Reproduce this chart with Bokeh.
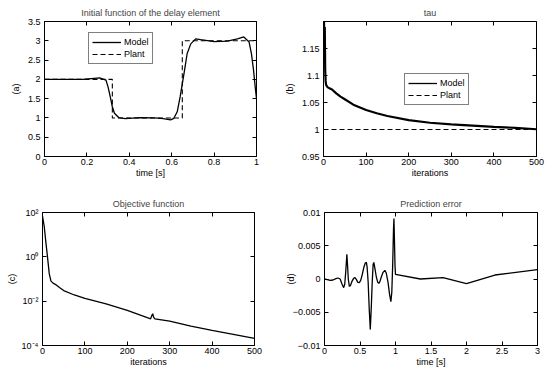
from bokeh.plotting import figure
from bokeh.layouts import column, row
from bokeh.models import (Range1d, FixedTicker, CustomJSTickFormatter, LinearAxis,
                          LogAxis, Legend, LegendItem)
from bokeh.embed import file_html
from bokeh.resources import INLINE

FONT = "Liberation Sans"

# ---------------- (a) Initial function of the delay element ----------------
a_time = [0.0, 0.18, 0.26, 0.29, 0.30, 0.31, 0.32, 0.33, 0.35, 0.38, 0.45, 0.52,
          0.56, 0.595, 0.61, 0.626, 0.64, 0.658, 0.673, 0.69, 0.713, 0.737, 0.80,
          0.863, 0.91, 0.94, 0.965, 0.976, 0.986, 0.994, 1.0]
a_model = [2.0, 2.0, 2.04, 1.98, 1.8, 1.55, 1.29, 1.12, 1.01, 0.98, 1.01, 1.0,
           0.98, 0.95, 0.99, 1.16, 1.55, 2.15, 2.67, 2.92, 3.05, 3.03, 2.98,
           2.99, 3.05, 3.1, 2.97, 2.67, 2.24, 1.8, 1.5]
a_plant_time = [0.0, 0.32, 0.32, 0.65, 0.65, 1.0, 1.0]
a_plant = [2.0, 2.0, 1.0, 1.0, 3.0, 3.0, 2.0]
a_xticks = [0, 0.2, 0.4, 0.6, 0.8, 1]
a_xlabels = ["0", "0.2", "0.4", "0.6", "0.8", "1"]
a_yticks = [0, 0.5, 1, 1.5, 2, 2.5, 3, 3.5]
a_ylabels = ["0", "0.5", "1", "1.5", "2", "2.5", "3", "3.5"]

# ---------------- (b) tau ----------------
b_iter = [0, 1, 2, 3, 4, 5, 6, 8, 10, 15, 20, 30, 40, 50, 70, 100, 125, 150,
          200, 250, 300, 350, 400, 450, 500]
b_model = [1.45, 1.22, 1.14, 1.19, 1.11, 1.09, 1.083, 1.080, 1.078, 1.076, 1.074,
           1.067, 1.061, 1.056, 1.046, 1.036, 1.030, 1.025, 1.0175, 1.0125,
           1.0095, 1.0072, 1.005, 1.003, 1.0005]
b_plant_iter = [0, 500]
b_plant = [1.0, 1.0]
b_xticks = [0, 100, 200, 300, 400, 500]
b_xlabels = ["0", "100", "200", "300", "400", "500"]
b_yticks = [0.95, 1.0, 1.05, 1.1, 1.15]
b_ylabels = ["0.95", "1", "1.05", "1.1", "1.15"]

# ---------------- (c) Objective function ----------------
c_iter = [0, 4, 8, 12, 16, 20, 25, 31, 40, 50, 75, 100, 150, 200, 247, 255,
          258, 260, 262, 265, 300, 350, 400, 450, 500]
c_obj = [68, 24, 4.5, 0.9, 0.17, 0.08, 0.065, 0.056, 0.041, 0.030, 0.019,
         0.0135, 0.0076, 0.0038, 0.0018, 0.0016, 0.0023, 0.0027, 0.0019, 0.0016,
         0.00125, 0.00074, 0.00048, 0.00032, 0.00021]
c_xticks = [0, 100, 200, 300, 400, 500]
c_xlabels = ["0", "100", "200", "300", "400", "500"]
c_yticks = [1e-4, 1e-2, 1, 1e2]
c_ylabels = ["10\u207b\u2074", "10\u207b\u00b2", "10\u2070", "10\u00b2"]

# ---------------- (d) Prediction error ----------------
d_time = [0.0, 0.04, 0.08, 0.12, 0.16, 0.19, 0.22, 0.245, 0.27, 0.285, 0.30,
          0.315, 0.325, 0.335, 0.35, 0.365, 0.385, 0.41, 0.43, 0.45, 0.47, 0.49,
          0.51, 0.53, 0.555, 0.575, 0.59, 0.60, 0.615, 0.63, 0.645, 0.66, 0.672,
          0.685, 0.695, 0.71, 0.73, 0.75, 0.765, 0.78, 0.80, 0.825, 0.85, 0.87,
          0.895, 0.915, 0.935, 0.948, 0.96, 0.972, 0.978, 0.985, 0.993, 1.0,
          1.35, 1.67, 2.0, 2.4, 3.0]
d_err = [0.0, -0.0001, -0.0002, -0.00015, 0.00005, 0.00015, 0.0, -0.0007,
         -0.0013, -0.0008, 0.0012, 0.0037, 0.002, 0.0, -0.0011, -0.001, -0.0004,
         0.0001, 0.0002, -0.0001, -0.0005, -0.00055, -0.0002, 0.0006, 0.0018,
         0.0024, 0.0025, 0.0018, -0.0005, -0.0045, -0.0076, -0.004, -0.0005,
         0.0022, 0.0025, 0.0016, 0.0003, -0.0005, -0.00065, -0.0004, 0.0003,
         0.001, 0.0013, 0.0009, -0.0005, -0.0022, -0.0034, -0.002, 0.002, 0.0075,
         0.0091, 0.006, 0.002, 0.0007, 0.0, 0.0002, -0.0007, 0.0006, 0.0014]
d_xticks = [0, 0.5, 1, 1.5, 2, 2.5, 3]
d_xlabels = ["0", "0.5", "1", "1.5", "2", "2.5", "3"]
d_yticks = [-0.01, -0.005, 0, 0.005, 0.01]
d_ylabels = ["\u22120.01", "\u22120.005", "0", "0.005", "0.01"]


def fmt(vals, labels):
    return CustomJSTickFormatter(args=dict(tk_vals=vals, tk_labels=labels), code="""
        for (let i = 0; i < tk_vals.length; i++) {
            if (Math.abs(tk_vals[i] - tick) <= 1e-9 * Math.max(1, Math.abs(tk_vals[i]))) return tk_labels[i];
        }
        return "";
    """)


def blank():
    return CustomJSTickFormatter(code="return '';")


def style_axis(ax, label_standoff, axis_label_standoff):
    ax.major_tick_in = 4
    ax.major_tick_out = 0
    ax.minor_tick_line_color = None
    ax.axis_line_color = "black"
    ax.major_tick_line_color = "black"
    ax.major_label_text_font = FONT
    ax.major_label_text_font_size = "9px"
    ax.major_label_text_color = "black"
    ax.major_label_standoff = label_standoff
    ax.axis_label_text_font = FONT
    ax.axis_label_text_font_size = "9px"
    ax.axis_label_text_font_style = "normal"
    ax.axis_label_text_color = "black"
    ax.axis_label_standoff = axis_label_standoff


def make_fig(title, xr, yr, borders, xt, xl, yt, yl, xlabel, ylabel, ylog=False,
             ylab_standoff=4, title_standoff=5):
    left, right, top_b, bottom = borders
    p = figure(width=275, height=192, output_backend="svg", toolbar_location=None,
               x_range=Range1d(*xr), y_range=Range1d(*yr),
               y_axis_type="log" if ylog else "linear",
               min_border_left=left, min_border_right=right,
               min_border_bottom=bottom, min_border_top=top_b)
    p.title.text = title
    p.title.text_font = FONT
    p.title.text_font_size = "9px"
    p.title.text_font_style = "normal"
    p.title.align = "center"
    p.title.standoff = title_standoff
    p.xgrid.visible = False
    p.ygrid.visible = False
    p.outline_line_color = "black"
    p.outline_line_alpha = 1.0
    p.background_fill_color = "white"
    p.border_fill_color = "white"

    xa = p.xaxis[0]
    xa.ticker = FixedTicker(ticks=xt)
    xa.formatter = fmt(xt, xl)
    xa.axis_label = xlabel
    style_axis(xa, 2, 0)
    ya = p.yaxis[0]
    ya.ticker = FixedTicker(ticks=yt)
    ya.formatter = fmt(yt, yl)
    ya.axis_label = ylabel
    style_axis(ya, 4, ylab_standoff)

    # ticks on the opposite sides of the box
    top = LinearAxis(ticker=FixedTicker(ticks=xt), formatter=blank())
    style_axis(top, 0, 0)
    top.axis_line_color = None
    p.add_layout(top, "above")
    rax = (LogAxis if ylog else LinearAxis)(ticker=FixedTicker(ticks=yt), formatter=blank())
    style_axis(rax, 0, 0)
    rax.axis_line_color = None
    p.add_layout(rax, "right")
    return p


def add_legend(p, items, loc):
    lg = Legend(items=items, location=loc)
    lg.label_text_font = FONT
    lg.label_text_font_size = "9px"
    lg.label_text_color = "black"
    lg.border_line_color = "black"
    lg.border_line_width = 1
    lg.background_fill_color = "white"
    lg.background_fill_alpha = 1.0
    lg.padding = 3
    lg.spacing = 0
    lg.margin = 0
    lg.glyph_width = 29
    lg.glyph_height = 12
    lg.label_height = 12
    lg.label_standoff = 3
    p.add_layout(lg, "center")


# (a)
p1 = make_fig("Initial function of the delay element", (0, 1), (0, 3.5), (44, 19, 21, 35),
              a_xticks, a_xlabels, a_yticks, a_ylabels, "time [s]", "(a)",
              title_standoff=7)
r_pl = p1.line(a_plant_time, a_plant, line_color="black", line_width=1.1, line_dash="5 3")
r_md = p1.line(a_time, a_model, line_color="black", line_width=1.3)
add_legend(p1, [LegendItem(label="Model", renderers=[r_md]),
                LegendItem(label="Plant", renderers=[r_pl])], (44, 92))

# (b)
p2 = make_fig("tau", (0, 500), (0.95, 1.2), (48, 14, 21, 36),
              b_xticks, b_xlabels, b_yticks, b_ylabels, "iterations", "(b)",
              title_standoff=7)
r2_pl = p2.line(b_plant_iter, b_plant, line_color="black", line_width=1.1, line_dash="5 3")
r2_md = p2.line(b_iter, b_model, line_color="black", line_width=2.2)
# legend key drawn with the thinner line used in the reference legend (single point: no visible mark)
r2_key = p2.line(b_iter[-1:], b_model[-1:], line_color="black", line_width=1.3)
add_legend(p2, [LegendItem(label="Model", renderers=[r2_key]),
                LegendItem(label="Plant", renderers=[r2_pl])], (81, 51))

# (c)
p3 = make_fig("Objective function", (0, 500), (1e-4, 1e2), (42, 21, 19, 39),
              c_xticks, c_xlabels, c_yticks, c_ylabels, "iterations", "(c)", ylog=True,
              ylab_standoff=2, title_standoff=8)
p3.line(c_iter, c_obj, line_color="black", line_width=1.3)

# (d)
p4 = make_fig("Prediction error", (0, 3), (-0.01, 0.01), (49, 13, 17, 39),
              d_xticks, d_xlabels, d_yticks, d_ylabels, "time [s]", "(d)",
              ylab_standoff=-6, title_standoff=7)
p4.line(d_time, d_err, line_color="black", line_width=1.3)

layout = column(row(p1, p2), row(p3, p4))
open("out.html", "w").write(file_html(layout, INLINE))
